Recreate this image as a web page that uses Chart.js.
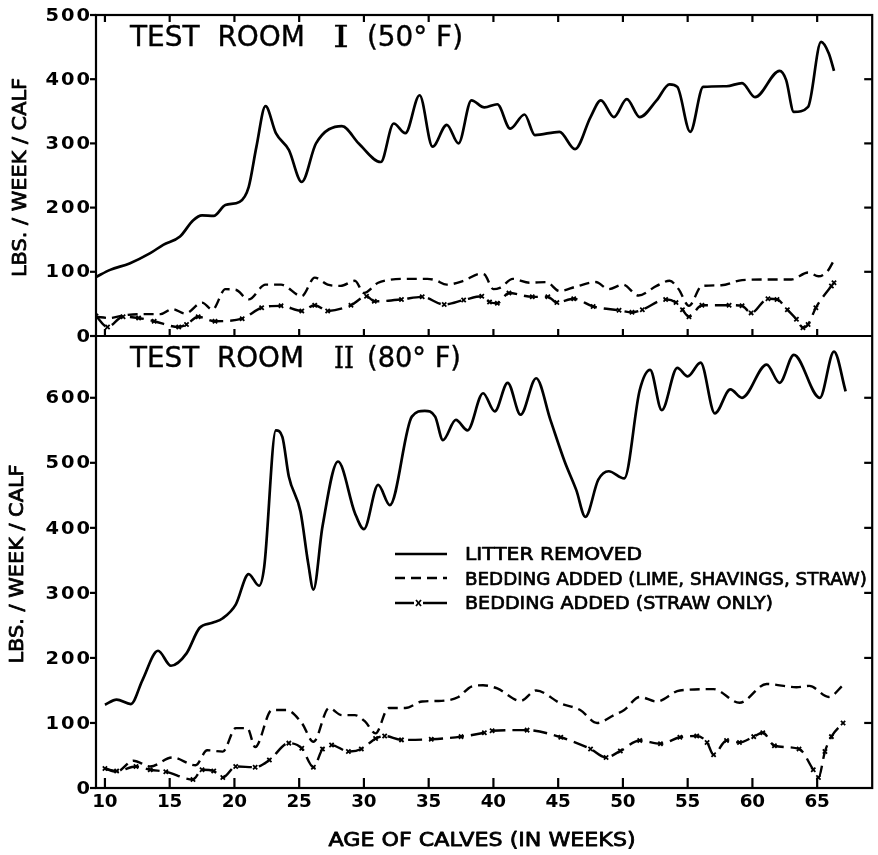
<!DOCTYPE html>
<html><head><meta charset="utf-8">
<script src="https://cdn.jsdelivr.net/npm/chart.js@4.4.1/dist/chart.umd.min.js"></script>
<style>html,body{margin:0;padding:0;background:#fff;}canvas{display:block}</style>
</head><body>
<canvas id="c" width="878" height="855"></canvas>
<script>
// ---------- tick labels / text ----------
const xTicks = [10,15,20,25,30,35,40,45,50,55,60,65];
const topTicks = [0,100,200,300,400,500];
const bottomTicks = [0,100,200,300,400,500,600];
const seriesNames = ['LITTER REMOVED','BEDDING ADDED (LIME, SHAVINGS, STRAW)','BEDDING ADDED (STRAW ONLY)'];
const xTitle = 'AGE OF CALVES (IN WEEKS)';
const yTitle = 'LBS. / WEEK / CALF';

// ---------- TEST ROOM I (50°F) ----------
const r1LitterWeeks = [9.31,10.4,11.9,13.5,14.5,15.8,16.8,17.5,18.4,19.3,20.4,21.1,21.7,22.4,23.2,24.2,25.2,26.3,28.3,29.6,31.3,32.3,33.2,34.3,35.3,36.4,37.3,38.3,39.3,40.3,41.3,42.4,43.2,45.1,46.3,47.5,48.3,49.3,50.3,51.3,52.6,53.6,54.2,55.2,56.2,58.0,59.2,60.2,62.1,62.6,63.2,64.3,65.3,65.9,66.3];
const r1LitterLbs   = [92,103,113,129,142,155,180,188,187,204,209,232,295,358,316,290,240,300,327,300,271,331,316,375,295,329,300,367,356,361,323,345,313,318,291,341,367,341,369,341,367,392,388,318,388,389,394,372,413,399,349,357,458,440,413];

const r1LimeWeeks = [9.31,10.4,11.4,12.6,14.3,15.2,16.2,17.5,18.3,19.3,20.1,21.1,22.4,23.6,25.2,26.2,27.2,28.2,29.3,30.0,31.1,31.8,33.1,34.9,35.5,36.4,37.7,39.0,39.3,40.0,40.5,41.5,42.8,44.1,45.1,46.4,47.9,48.9,50.0,51.2,52.6,53.6,54.3,55.1,56.1,57.6,59.2,61.2,63.0,64.3,65.1,65.8,66.3];
const r1LimeLbs   = [30,28,32,34,34,42,35,52,41,73,72,57,80,80,62,91,80,78,86,67,83,87,89,89,87,80,86,97,96,73,75,89,83,84,70,77,84,73,80,63,78,86,73,47,78,79,87,88,88,99,93,101,118];

const r1StrawWeeks = [9.31,10.2,11.4,12.6,13.8,15.7,16.3,17.2,18.5,20.6,22.1,23.6,25.2,26.2,27.2,29.0,30.2,30.8,32.9,34.5,36.2,37.7,39.1,39.7,40.3,41.2,43.0,44.2,44.9,46.2,47.7,49.7,50.7,51.5,53.3,54.1,54.6,55.1,56.1,58.2,59.2,59.9,61.2,61.9,62.7,63.4,63.9,64.3,64.9,66.1,66.3];
const r1StrawLbs   = [31,14,30,28,23,14,18,30,23,27,44,47,39,48,39,48,62,54,57,61,49,56,62,53,51,67,61,61,52,58,46,40,37,41,57,52,41,30,48,48,47,36,58,57,41,26,13,18,44,78,83];

// ---------- TEST ROOM II (80°F) ----------
const r2LitterWeeks = [10.0,10.9,12.0,12.9,14.1,15.1,16.3,17.3,18.3,19.1,20.1,21.1,21.9,22.3,23.2,23.7,24.2,25.1,25.7,26.1,26.8,28.0,29.3,30.0,31.1,32.0,33.7,34.7,35.5,36.1,37.1,38.0,39.2,40.1,41.1,42.1,43.3,44.4,45.5,46.4,47.1,48.1,48.9,50.1,51.3,52.1,53.0,54.2,55.0,56.0,57.1,58.3,59.2,61.1,62.1,63.2,65.2,66.3,67.2];
const r2LitterLbs   = [128,136,129,166,211,188,207,246,254,261,282,329,311,340,550,540,479,425,345,305,402,502,423,398,466,435,571,580,571,535,566,550,607,579,623,574,630,566,502,458,417,474,487,476,612,643,581,646,633,654,576,613,600,651,623,666,600,671,610];

const r2LimeWeeks = [10.0,10.9,12.2,13.5,15.2,17.0,17.9,19.1,20.1,21.0,21.6,22.9,24.0,25.2,26.1,27.3,28.3,29.3,30.1,30.9,31.9,33.2,34.5,36.0,37.3,38.3,39.2,40.3,42.1,43.3,45.2,46.7,48.0,49.3,50.1,51.3,52.6,54.4,57.0,59.0,61.1,63.4,64.4,65.9,67.0];
const r2LimeLbs   = [30,25,42,33,47,35,58,56,92,92,63,120,120,100,71,123,112,112,102,84,123,123,133,134,140,156,158,153,134,150,130,120,100,112,120,140,133,150,152,131,160,155,157,140,158];

const r2StrawWeeks = [10.0,10.9,12.4,13.5,14.7,16.8,17.5,18.4,19.1,20.1,21.6,22.7,24.2,25.2,26.1,26.8,27.5,28.8,29.8,30.9,31.6,32.9,35.2,37.5,39.3,39.9,42.6,45.2,47.5,48.7,49.8,51.3,52.9,54.4,55.7,56.5,57.0,58.0,59.0,60.1,60.8,61.7,63.6,64.7,65.1,65.6,66.1,67.0];
const r2StrawLbs   = [30,26,33,28,25,13,28,26,16,33,32,43,69,61,32,60,66,56,60,76,80,74,75,79,85,88,89,78,60,47,57,73,68,78,80,70,51,73,70,79,85,65,60,28,16,56,79,100];

// ---------- build chart ----------
const pts = (w, v) => w.map((x, i) => ({x, y: v[i]}));
const solidStyle = {borderColor:'#000', borderWidth:2.7, pointRadius:0, fill:false, cubicInterpolationMode:'monotone'};
const dashStyle  = {borderColor:'#000', borderWidth:2.4, borderDash:[10,6], pointRadius:0, fill:false, cubicInterpolationMode:'monotone'};
const dotStyle   = {borderColor:'#000', borderWidth:2.4, borderDash:[14,7], pointStyle:'crossRot', pointRadius:3, pointBorderWidth:1.8, pointBorderColor:'#000', pointBackgroundColor:'#000', fill:false, cubicInterpolationMode:'monotone'};

function txt(ctx, s, x, y, o) {
  ctx.save();
  ctx.font = (o.weight || 'normal') + ' ' + o.size + 'px ' + (o.family || '"DejaVu Sans"');
  ctx.fillStyle = '#000';
  ctx.strokeStyle = '#000';
  ctx.textBaseline = 'middle';
  const m = ctx.measureText(s).width;
  const sx = o.w ? o.w / m : (o.sx || 1);
  ctx.translate(x, y);
  if (o.rot) ctx.rotate(o.rot);
  ctx.scale(sx, 1);
  ctx.textAlign = o.align || 'left';
  ctx.fillText(s, 0, 0);
  if (o.heavy) { ctx.lineWidth = o.heavy; ctx.lineJoin = 'round'; ctx.strokeText(s, 0, 0); }
  ctx.restore();
}
// draw a string char by char with fixed pitch; anchor: 'right' or 'center'
function digits(ctx, s, x, y, pitch, size, anchor) {
  const n = s.length;
  const start = anchor === 'right' ? x - n * pitch : x - n * pitch / 2;
  for (let i = 0; i < n; i++) {
    txt(ctx, s[i], start + pitch * (i + 0.5), y, {size, weight:'bold', align:'center', sx:1.08});
  }
}
function line(ctx, x1, y1, x2, y2) { ctx.beginPath(); ctx.moveTo(x1, y1); ctx.lineTo(x2, y2); ctx.stroke(); }

const decor = {
  id: 'decor',
  afterDraw(chart) {
    const ctx = chart.ctx, ca = chart.chartArea;
    const xs = chart.scales.x, yT = chart.scales.yT, yB = chart.scales.yB;
    const sep = yT.getPixelForValue(0);
    ctx.save();
    ctx.strokeStyle = '#000'; ctx.lineWidth = 2.2; ctx.setLineDash([]);
    ctx.strokeRect(ca.left, ca.top, ca.right - ca.left, ca.bottom - ca.top);
    line(ctx, ca.left, sep, ca.right, sep);
    // x ticks (inward)
    xTicks.forEach(v => {
      const px = xs.getPixelForValue(v);
      line(ctx, px, ca.top, px, ca.top + 7);
      line(ctx, px, sep, px, sep - 7);
      line(ctx, px, ca.bottom, px, ca.bottom - 10);
      digits(ctx, String(v), px, ca.bottom + 15, 12.5, 17, 'center');
    });
    // y ticks
    topTicks.forEach(v => {
      const py = yT.getPixelForValue(v);
      line(ctx, ca.left - 6, py, ca.left, py);
      if (v > 0 && v < 500) line(ctx, ca.right, py, ca.right - 8, py);
      digits(ctx, String(v), ca.left - 5, py + 1, 15.5, 18, 'right');
    });
    bottomTicks.forEach(v => {
      const py = yB.getPixelForValue(v);
      line(ctx, ca.left - 6, py, ca.left, py);
      if (v > 0) line(ctx, ca.right, py, ca.right - 8, py);
      digits(ctx, String(v), ca.left - 5, py + 1, 15.5, 18, 'right');
    });
    // axis titles
    txt(ctx, xTitle, (ca.left + ca.right) / 2 - 2, 841, {size:20, w:307, align:'center', heavy:0.8});
    txt(ctx, yTitle, 21, (yT.top + yT.bottom) / 2 + 2, {size:20, w:199, align:'center', rot:-Math.PI/2, heavy:0.8});
    txt(ctx, yTitle, 18, (yB.top + yB.bottom) / 2 + 2, {size:20, w:199, align:'center', rot:-Math.PI/2, heavy:0.8});
    // panel titles
    txt(ctx, 'TEST  ROOM', 130, 39, {size:28, w:175, heavy:0.4});
    txt(ctx, 'I', 333, 39, {size:30, w:16, family:'"DejaVu Serif"', heavy:0.4});
    txt(ctx, '(50° F)', 367, 39, {size:28, w:96, heavy:0.4});
    txt(ctx, 'TEST  ROOM', 130, 360, {size:28, w:174, heavy:0.4});
    txt(ctx, 'II', 334, 360, {size:30, w:20, family:'"DejaVu Serif"', heavy:0.4});
    txt(ctx, '(80° F)', 367, 360, {size:28, w:94, heavy:0.4});
    // legend
    const ly = [555, 580, 604];
    const lw = [177, 402, 308];
    ctx.lineWidth = 2.5;
    ctx.setLineDash([]); line(ctx, 395, ly[0] - 1, 447, ly[0] - 1);
    ctx.setLineDash([10,6]); line(ctx, 395, ly[1] - 2, 447, ly[1] - 2);
    ctx.setLineDash([]); line(ctx, 395, ly[2] - 1, 414, ly[2] - 1); line(ctx, 423, ly[2] - 1, 447, ly[2] - 1);
    ctx.lineWidth = 1.8; line(ctx, 416, ly[2] - 4, 421, ly[2] + 2); line(ctx, 416, ly[2] + 2, 421, ly[2] - 4);
    seriesNames.forEach((s, i) => txt(ctx, s, 465, ly[i], {size:18, w:lw[i], heavy:0.7}));
    ctx.restore();
  }
};

new Chart(document.getElementById('c'), {
  type: 'line',
  data: {
    datasets: [
      {label: seriesNames[0], data: pts(r1LitterWeeks, r1LitterLbs), yAxisID: 'yT', ...solidStyle},
      {label: seriesNames[1], data: pts(r1LimeWeeks, r1LimeLbs), yAxisID: 'yT', ...dashStyle},
      {label: seriesNames[2], data: pts(r1StrawWeeks, r1StrawLbs), yAxisID: 'yT', ...dotStyle},
      {label: seriesNames[0], data: pts(r2LitterWeeks, r2LitterLbs), yAxisID: 'yB', ...solidStyle},
      {label: seriesNames[1], data: pts(r2LimeWeeks, r2LimeLbs), yAxisID: 'yB', ...dashStyle},
      {label: seriesNames[2], data: pts(r2StrawWeeks, r2StrawLbs), yAxisID: 'yB', ...dotStyle}
    ]
  },
  options: {
    responsive: false, animation: false, devicePixelRatio: 1, events: [],
    layout: {padding: {top: 15, right: 2, left: 0, bottom: 0}},
    plugins: {legend: {display: false}, tooltip: {enabled: false}},
    scales: {
      x: {type: 'linear', position: 'bottom', min: 9.31, max: 69.25,
          ticks: {display: false}, grid: {display: false}, border: {display: false},
          afterFit: s => { s.height = 67; }},
      yB: {type: 'linear', position: 'left', stack: 'panels', stackWeight: 452, min: 0, max: 695,
           ticks: {display: false}, grid: {display: false}, border: {display: false},
           afterFit: s => { s.width = 96; }},
      yT: {type: 'linear', position: 'left', stack: 'panels', stackWeight: 321, min: 0, max: 500,
           ticks: {display: false}, grid: {display: false}, border: {display: false},
           afterFit: s => { s.width = 96; }}
    }
  },
  plugins: [decor]
});
</script>
</body></html>
